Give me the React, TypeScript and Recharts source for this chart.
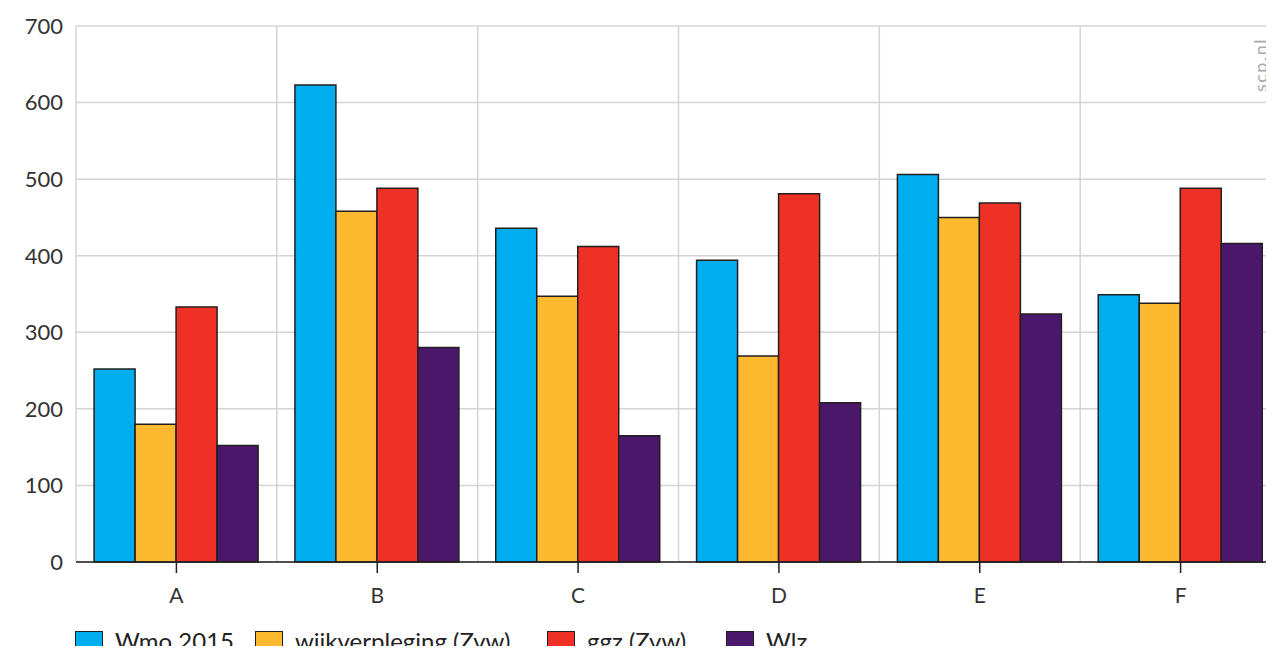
import React from 'react';
import { Bar, BarChart, CartesianGrid, XAxis, YAxis } from 'recharts';

const categories = ['A', 'B', 'C', 'D', 'E', 'F'];
const wmo = [252, 623, 436, 394, 506, 349];
const wijkverpleging = [180, 458, 347, 269, 450, 338];
const ggz = [333, 488, 412, 481, 469, 488];
const wlz = [152, 280, 165, 208, 324, 416];
const yTicks = [0, 100, 200, 300, 400, 500, 600, 700];

const series = [
  { key: 'wmo', label: 'Wmo 2015', color: '#00aeef', slot: 180 },
  { key: 'wijk', label: 'wijkverpleging (Zvw)', color: '#fdb92f', slot: 292 },
  { key: 'ggz', label: 'ggz (Zvw)', color: '#ee3124', slot: 179 },
  { key: 'wlz', label: 'Wlz', color: '#4b176b', slot: 120 },
];

const data = categories.map((name, i) => ({
  name,
  wmo: wmo[i],
  wijk: wijkverpleging[i],
  ggz: ggz[i],
  wlz: wlz[i],
}));

const font = 'Lato, "Open Sans", sans-serif';
const ink = '#231f20';

const App: React.FC = () => {
  const boundaries = (props: any) => {
    const off = props.offset;
    return Array.from({ length: categories.length + 1 }, (_, i) => off.left + (i * off.width) / categories.length);
  };

  return (
    <div style={{ position: 'relative', width: 1274, height: 654, margin: -8, overflow: 'hidden', fontFamily: font }}>
      <BarChart
        width={1290}
        height={654}
        data={data}
        margin={{ top: 26, right: 9, bottom: 52, left: 0 }}
        barCategoryGap="9%"
        barGap={0}
      >
        <CartesianGrid stroke="#d4d4d4" strokeWidth={1.5} verticalCoordinatesGenerator={boundaries} />
        <XAxis
          dataKey="name"
          height={40}
          tickSize={11}
          tickMargin={15}
          axisLine={{ stroke: ink, strokeWidth: 1.5 }}
          tickLine={{ stroke: ink, strokeWidth: 1.5 }}
          tick={{ fill: '#333', fontSize: 21, fontFamily: font }}
        />
        <YAxis
          width={76}
          domain={[0, 700]}
          ticks={yTicks}
          axisLine={false}
          tickLine={false}
          tickSize={0}
          tickMargin={13}
          tick={{ fill: '#333', fontSize: 22, fontFamily: font }}
        />
        {series.map(s => (
          <Bar key={s.key} dataKey={s.key} fill={s.color} stroke={ink} strokeWidth={1.5} isAnimationActive={false} />
        ))}
      </BarChart>
      <svg width={1274} height={654} style={{ position: 'absolute', left: 0, top: 0, pointerEvents: 'none' }}>
        <text
          transform="translate(1267, 65) rotate(-90)"
          textAnchor="middle"
          fill="#a8a8a8"
          fontSize={18}
          letterSpacing={1.5}
          fontFamily={font}
        >
          scp.nl
        </text>
      </svg>
      <div style={{ position: 'absolute', left: 75, top: 626, display: 'flex', alignItems: 'center', fontSize: 24, color: '#222' }}>
        {series.map(s => (
          <div key={s.key} style={{ display: 'flex', alignItems: 'center', width: s.slot }}>
            <span
              style={{
                display: 'inline-block',
                boxSizing: 'border-box',
                width: 28,
                height: 19,
                background: s.color,
                border: `1.5px solid ${ink}`,
                marginRight: 12,
                flexShrink: 0,
              }}
            />
            <span style={{ whiteSpace: 'nowrap' }}>{s.label}</span>
          </div>
        ))}
      </div>
    </div>
  );
};

export default App;
